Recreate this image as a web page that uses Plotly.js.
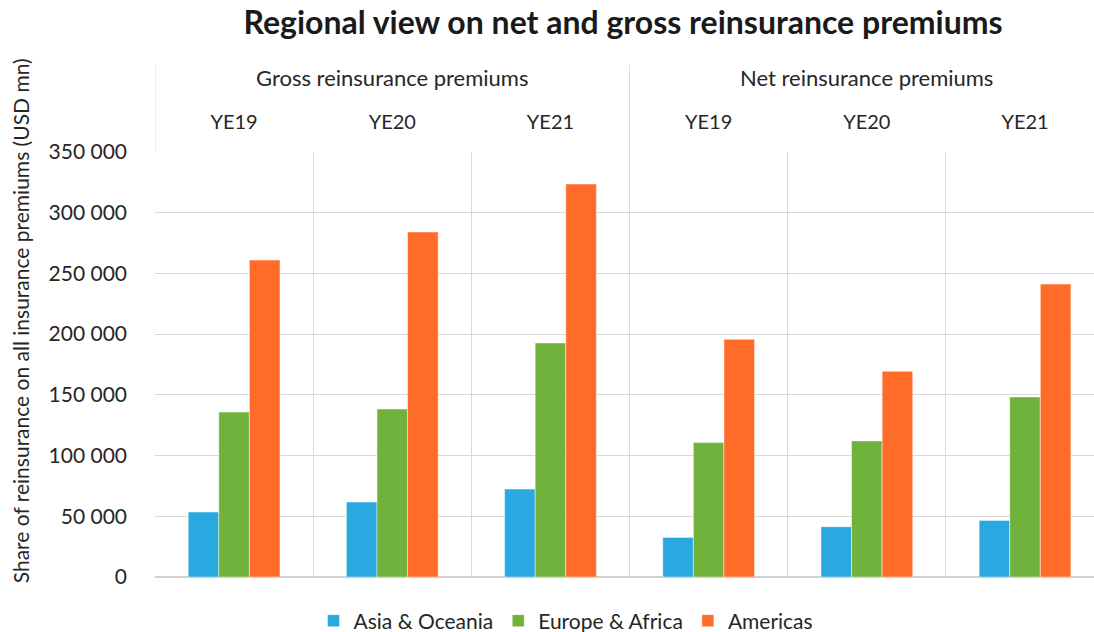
<!DOCTYPE html>
<html>
<head>
<meta charset="utf-8">
<script src="https://cdn.plot.ly/plotly-3.0.1.min.js"></script>
<style>html,body{margin:0;padding:0;background:#fff;}#chart{width:1094px;height:632px;}</style>
</head>
<body>
<div id="chart"></div>
<script>
// Data
const categories = ["Gross YE19", "Gross YE20", "Gross YE21", "Net YE19", "Net YE20", "Net YE21"];
const yearLabels = ["YE19", "YE20", "YE21", "YE19", "YE20", "YE21"];
const groupLabels = ["Gross reinsurance premiums", "Net reinsurance premiums"];
const groupCenters = ["Gross YE20", "Net YE20"];
const seriesNames = ["Asia & Oceania", "Europe & Africa", "Americas"];
const asiaOceania = [53500, 61700, 72400, 32600, 41400, 46600];
const europeAfrica = [135800, 138300, 192700, 110700, 112100, 148300];
const americas = [261000, 284100, 323600, 195700, 169400, 241200];
const colors = ["#29A9E0", "#70B23B", "#FF6C29"];
const yTitle = "Share of reinsurance on all insurance premiums (USD mn)";

const FONT = "Lato, 'Open Sans', sans-serif";
const TXT = "#262626";
const values = [asiaOceania, europeAfrica, americas];

const traces = values.map((v, i) => ({
  type: "bar",
  name: seriesNames[i],
  x: categories,
  y: v,
  marker: { color: colors[i], line: { color: "rgba(255,255,255,0.45)", width: 1 } },
  hoverinfo: "y+name"
}));

const W = 1094, H = 632;
const PLOT_L = 155, PLOT_TOP = 152, PLOT_BOT = 577.5, PLOT_H = PLOT_BOT - PLOT_TOP;
const py = px => (PLOT_BOT - px) / PLOT_H;
const pxr = px => (px - PLOT_L) / (W - PLOT_L);

const annotations = groupLabels.map((t, i) => ({
  text: t, x: groupCenters[i], xref: "x",
  y: py(77), yref: "paper",
  xanchor: "center", yanchor: "middle", showarrow: false,
  font: { family: FONT, size: 22, color: TXT }
}));
annotations.push({
  text: yTitle, textangle: -90,
  x: pxr(20), xref: "paper", y: py(321.5), yref: "paper",
  xanchor: "center", yanchor: "middle", showarrow: false,
  font: { family: FONT, size: 21, color: TXT }
});

const layout = {
  width: W, height: H,
  margin: { l: PLOT_L, r: 0, t: PLOT_TOP, b: H - PLOT_BOT },
  paper_bgcolor: "#fff", plot_bgcolor: "#fff",
  font: { family: FONT, color: TXT },
  title: {
    text: "<b>Regional view on net and gross reinsurance premiums</b>",
    font: { family: FONT, size: 32, color: "#1a1a1a" },
    x: 623 / W, xanchor: "center", xref: "container",
    y: 1 - 23 / H, yanchor: "middle", yref: "container"
  },
  barmode: "group",
  bargap: 0.42,
  bargroupgap: 0,
  xaxis: {
    type: "category",
    categoryorder: "array", categoryarray: categories,
    range: [-0.5, 5.436],
    side: "top",
    tickmode: "array", tickvals: categories, ticktext: yearLabels,
    tickson: "boundaries",
    ticks: "", showgrid: true, gridcolor: "#d9d9d9", gridwidth: 1,
    showline: false, zeroline: false,
    tickfont: { family: FONT, size: 20, color: TXT },
    ticklabelstandoff: 18,
    automargin: false,
    fixedrange: true
  },
  yaxis: {
    range: [0, 350000],
    tickmode: "linear", tick0: 0, dtick: 50000,
    tickformat: ",d",
    showgrid: true, gridcolor: "#d9d9d9", gridwidth: 1,
    zeroline: true, zerolinecolor: "#d0d0d0", zerolinewidth: 2,
    showline: false, ticks: "",
    tickfont: { family: FONT, size: 21, color: TXT },
    ticklabelstandoff: 27,
    automargin: false,
    fixedrange: true
  },
  separators: ". ",
  showlegend: true,
  legend: {
    orientation: "h",
    x: 566 / W, xanchor: "center", xref: "container",
    y: 1 - 621 / H, yanchor: "middle", yref: "container",
    font: { family: FONT, size: 21, color: TXT },
    traceorder: "normal",
    itemclick: false, itemdoubleclick: false
  },
  annotations: annotations,
  shapes: [-0.5, 2.5].map(xv => ({
    type: "line", xref: "x", yref: "paper",
    x0: xv, x1: xv, y0: 1, y1: py(65),
    line: { color: "#d9d9d9", width: 1 }
  }))
};

Plotly.newPlot("chart", traces, layout, { displayModeBar: false, staticPlot: true });
</script>
</body>
</html>
